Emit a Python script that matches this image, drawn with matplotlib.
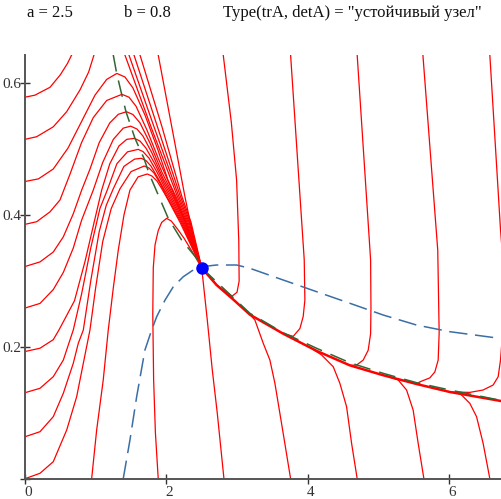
import matplotlib
matplotlib.use("Agg")
import matplotlib.pyplot as plt
from matplotlib.transforms import ScaledTranslation

# =========================================================
# DATA
# =========================================================

a_val = 2.5
b_val = 0.8
type_text = "\"устойчивый узел\""

equilibrium = (2.5, 0.32)

# nullclines
blue_x = [1.39, 1.485, 1.58, 1.697, 1.792, 1.863, 1.98, 2.098, 2.239, 2.38, 2.499,
          2.711, 2.994, 3.182, 3.654, 4.126, 4.597, 5.068, 5.54, 6.011, 6.73]
blue_y = [0.0, 0.0587, 0.1244, 0.1953, 0.2256, 0.2458, 0.2708, 0.2913, 0.3065, 0.3167, 0.3217,
          0.3243, 0.3243, 0.3193, 0.3015, 0.2838, 0.2662, 0.2484, 0.2332, 0.2231, 0.2128]

green_x = [1.249, 1.297, 1.368, 1.429, 1.556, 1.683, 1.758, 2.027, 2.216, 2.429, 2.5,
           3.182, 3.654, 4.126, 4.597, 5.068, 5.54, 6.011, 6.73]
green_y = [0.643, 0.6152, 0.5833, 0.5569, 0.5165, 0.4862, 0.4624, 0.3951, 0.3622, 0.3344, 0.32,
           0.251, 0.2215, 0.1979, 0.176, 0.1599, 0.1457, 0.1346, 0.1189]

# slow manifold (thick red)
manifold = [(6.73, 0.118), (6.011, 0.1316), (5.54, 0.1437), (5.068, 0.157), (4.597, 0.172),
            (4.126, 0.194), (3.654, 0.220), (3.182, 0.249), (2.946, 0.272), (2.71, 0.294), (2.5, 0.32)]

# trajectories starting on the left edge
left_058 = [(0, 0.579), (0.14, 0.582), (0.354, 0.594), (0.50, 0.613), (0.60, 0.630), (0.66, 0.643)]
left_051 = [(0, 0.515), (0.165, 0.519), (0.40, 0.534), (0.59, 0.557), (0.778, 0.590), (0.90, 0.617), (0.976, 0.643)]
left_045 = [(0, 0.451), (0.19, 0.455), (0.40, 0.470), (0.61, 0.502), (0.80, 0.542), (0.99, 0.582), (1.156, 0.606),
            (1.30, 0.615), (1.414, 0.6096), (1.527, 0.593), (1.697, 0.552), (1.881, 0.499), (2.023, 0.453),
            (2.136, 0.428), (2.291, 0.3895), (2.5, 0.32)]
left_039 = [(0, 0.386), (0.165, 0.390), (0.354, 0.405), (0.495, 0.423), (0.636, 0.462), (0.80, 0.51), (0.966, 0.548),
            (1.156, 0.574), (1.3715, 0.5833), (1.471, 0.579), (1.570, 0.5655), (1.726, 0.529), (1.895, 0.4836),
            (2.122, 0.428), (2.277, 0.3895), (2.5, 0.32)]
left_032 = [(0, 0.322), (0.212, 0.329), (0.40, 0.344), (0.542, 0.367), (0.683, 0.402), (0.802, 0.438), (0.92, 0.47),
            (1.05, 0.51), (1.2, 0.54), (1.32, 0.553), (1.4365, 0.5569), (1.527, 0.5527), (1.627, 0.54),
            (1.768, 0.5094), (1.938, 0.465), (2.107, 0.428), (2.27, 0.3895), (2.5, 0.32)]
left_026 = [(0, 0.259), (0.212, 0.266), (0.40, 0.287), (0.542, 0.313), (0.683, 0.350), (0.80, 0.392), (0.966, 0.438),
            (1.10, 0.48), (1.25, 0.515), (1.39, 0.532), (1.495, 0.535), (1.584, 0.5307), (1.669, 0.520),
            (1.796, 0.4943), (1.952, 0.456), (2.093, 0.428), (2.263, 0.3895), (2.5, 0.32)]
left_019 = [(0, 0.193), (0.212, 0.198), (0.40, 0.211), (0.48, 0.2256), (0.70, 0.27), (0.85, 0.33), (0.98, 0.39),
            (1.085, 0.438), (1.20, 0.478), (1.33, 0.505), (1.44, 0.515), (1.549, 0.5165), (1.627, 0.5124),
            (1.711, 0.5018), (1.839, 0.4775), (1.966, 0.4487), (2.072, 0.428), (2.249, 0.3895), (2.5, 0.32)]
left_013 = [(0, 0.1305), (0.212, 0.1372), (0.40, 0.1548), (0.542, 0.180), (0.636, 0.2105), (0.683, 0.2256),
            (0.80, 0.28), (0.93, 0.35), (1.06, 0.41), (1.164, 0.438), (1.30, 0.478), (1.45, 0.496), (1.601, 0.4998),
            (1.669, 0.4965), (1.754, 0.4866), (1.867, 0.4654), (1.966, 0.4441), (2.051, 0.428), (2.235, 0.3895),
            (2.5, 0.32)]
left_006 = [(0, 0.0637), (0.212, 0.0713), (0.40, 0.0941), (0.542, 0.1296), (0.683, 0.1751), (0.754, 0.2055),
            (0.825, 0.2256), (0.93, 0.30), (1.05, 0.375), (1.15, 0.415), (1.249, 0.440), (1.40, 0.474), (1.55, 0.485),
            (1.645, 0.4862), (1.711, 0.4829), (1.782, 0.4745), (1.881, 0.4563), (1.966, 0.4396), (2.03, 0.428),
            (2.221, 0.3895), (2.5, 0.32)]
left_000 = [(0.0, 0.0), (0.212, 0.0082), (0.40, 0.0258), (0.59, 0.0739), (0.731, 0.1244), (0.825, 0.1751),
            (0.919, 0.2256), (1.0, 0.29), (1.10, 0.36), (1.22, 0.41), (1.344, 0.440), (1.50, 0.466), (1.686, 0.4745),
            (1.754, 0.4715), (1.825, 0.4639), (1.909, 0.4487), (2.008, 0.428), (2.207, 0.3895), (2.5, 0.32)]

# trajectories re-entering / starting on the top edge
top_r1 = [(1.414, 0.643), (1.782, 0.5341), (2.157, 0.428), (2.306, 0.3895), (2.5, 0.32)]
top_r2 = [(1.471, 0.643), (1.825, 0.5341), (2.178, 0.428), (2.32, 0.3895), (2.5, 0.32)]
top_r3 = [(1.542, 0.643), (1.874, 0.5341), (2.20, 0.428), (2.334, 0.3895), (2.5, 0.32)]
top_r4 = [(1.627, 0.643), (1.938, 0.5341), (2.22, 0.428), (2.348, 0.3895), (2.5, 0.32)]
top_189 = [(1.885, 0.643), (2.075, 0.535), (2.263, 0.428), (2.38, 0.367), (2.475, 0.324), (2.5, 0.32)]
top_281 = [(2.805, 0.643), (2.92, 0.54), (2.994, 0.453), (3.025, 0.36), (3.03, 0.30), (3.0, 0.283),
           (2.93, 0.277), (2.71, 0.294), (2.5, 0.32)]
top_376 = [(3.758, 0.643), (3.951, 0.332), (3.96, 0.271), (3.936, 0.246), (3.89, 0.228), (3.795, 0.216), (3.654, 0.2205)]
top_470 = [(4.70, 0.643), (4.89, 0.332), (4.895, 0.26), (4.89, 0.22), (4.856, 0.195), (4.785, 0.18), (4.692, 0.1725),
           (4.597, 0.172)]
top_563 = [(5.63, 0.643), (5.84, 0.347), (5.86, 0.221), (5.846, 0.180), (5.799, 0.162), (5.728, 0.153), (5.587, 0.147),
           (5.54, 0.1437)]
top_658 = [(6.577, 0.643), (6.728, 0.378), (6.80, 0.28), (6.728, 0.180), (6.695, 0.1548), (6.624, 0.1422),
           (6.482, 0.1346), (6.294, 0.131), (6.011, 0.1316)]

# trajectories starting on the bottom edge
bot_094 = [(0.943, 0.0), (1.014, 0.0739), (1.107, 0.1498), (1.178, 0.2256), (1.25, 0.29), (1.32, 0.347), (1.40, 0.40),
           (1.485, 0.438), (1.60, 0.458), (1.73, 0.4624), (1.796, 0.4593), (1.867, 0.4518), (1.938, 0.4396),
           (2.0, 0.428), (2.192, 0.3895), (2.5, 0.32)]
bot_189 = [(1.885, 0.0), (1.845, 0.07), (1.82, 0.15), (1.808, 0.25), (1.815, 0.32), (1.84, 0.355), (1.885, 0.3765),
           (1.934, 0.389), (2.004, 0.3951), (2.07, 0.391), (2.15, 0.38), (2.25, 0.365), (2.38, 0.342), (2.5, 0.32)]
bot_281 = [(2.815, 0.0), (2.72, 0.10), (2.65, 0.165), (2.58, 0.24), (2.515, 0.305), (2.5, 0.32)]
bot_376 = [(3.758, 0.0), (3.653, 0.0689), (3.536, 0.1448), (3.465, 0.1801), (3.371, 0.2055), (3.253, 0.2408), (3.182, 0.249)]
bot_470 = [(4.70, 0.0), (4.621, 0.0537), (4.55, 0.1093), (4.455, 0.1448), (4.361, 0.17), (4.197, 0.1877), (4.078, 0.196)]
bot_564 = [(5.644, 0.0), (5.563, 0.0537), (5.492, 0.1042), (5.399, 0.1346), (5.28, 0.1498), (5.116, 0.1557)]
bot_658 = [(6.577, 0.0), (6.482, 0.0537), (6.389, 0.0941), (6.294, 0.1144), (6.153, 0.1296), (6.011, 0.1316)]

x_ticks = [0, 2, 4, 6]
y_ticks = [0, 0.2, 0.4, 0.6]
y_tick_labels = ["", "0.2", "0.4", "0.6"]

red_paths = [left_058, left_051, left_045, left_039, left_032, left_026, left_019, left_013, left_006, left_000,
             top_r1, top_r2, top_r3, top_r4, top_189, top_281, top_376, top_470, top_563, top_658,
             bot_094, bot_189, bot_281, bot_376, bot_470, bot_564, bot_658]

# =========================================================
# PLOT
# =========================================================

fig = plt.figure(figsize=(5.01, 4.99), dpi=100)
ax = fig.add_axes([25 / 501, (499 - 478.7) / 499, 476 / 501, (478.7 - 55) / 499])

for path in red_paths:
    xs, ys = zip(*path)
    ax.plot(xs, ys, color="red", linewidth=0.9, solid_joinstyle="round")

mx, my = zip(*manifold)
ax.plot(mx, my, color="red", linewidth=1.8)

ax.plot(green_x, green_y, color="#336633", linewidth=1.1, dashes=(11, 6))
ax.plot(blue_x, blue_y, color="#3a6ea5", linewidth=1.1, dashes=(12, 5))

ax.plot([equilibrium[0]], [equilibrium[1]], "o", color="#0000ff", markersize=8, zorder=5)

ax.set_xlim(0, 6.735)
ax.set_ylim(0, 0.643)

for side in ["top", "right"]:
    ax.spines[side].set_visible(False)
for side in ["left", "bottom"]:
    ax.spines[side].set_color("#555555")
    ax.spines[side].set_linewidth(1.4)

ax.set_xticks(x_ticks)
ax.set_yticks(y_ticks)
ax.set_yticklabels(y_tick_labels)
ax.tick_params(direction="inout", length=7, width=1.0, color="#333333",
               labelsize=11, labelcolor="#333333")
ax.tick_params(axis="y", pad=-1)
ax.tick_params(axis="x", pad=2)
for lbl in ax.get_xticklabels() + ax.get_yticklabels():
    lbl.set_fontfamily("Liberation Serif")
for lbl in ax.get_xticklabels():
    lbl.set_transform(lbl.get_transform() + ScaledTranslation(3 / 100, 0, fig.dpi_scale_trans))

head = dict(fontsize=12, family="Liberation Serif", va="center", color="#111111")
fig.text(27 / 501, 1 - 13 / 499, f"a = {a_val}", **head)
fig.text(124 / 501, 1 - 13 / 499, f"b = {b_val}", **head)
fig.text(223 / 501, 1 - 13 / 499, f"Type(trA, detA) = {type_text}", **head)

fig.savefig("out.png", dpi=100)
